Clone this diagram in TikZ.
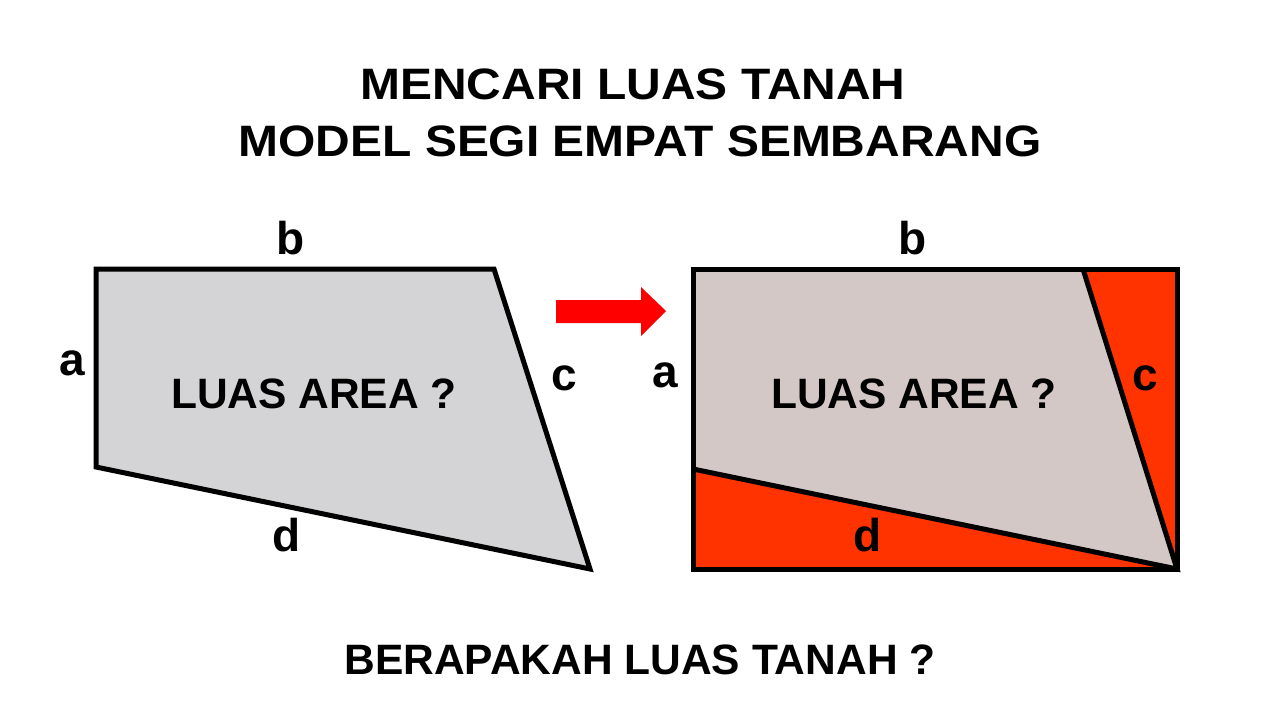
\documentclass[tikz,border=0pt]{standalone}
\usepackage{fontspec}
\setmainfont{Liberation Sans}
\definecolor{landgray}{HTML}{D4D3D5}
\definecolor{landpink}{HTML}{D4C8C6}
\definecolor{cutred}{HTML}{FF3300}
\newcommand{\widetitle}[1]{\scalebox{1.09}[1]{#1}}
\tikzstyle{title}=[font=\fontsize{44}{50}\selectfont\bfseries,inner sep=0pt]
\tikzstyle{label}=[font=\fontsize{42.5}{48}\selectfont\bfseries,inner sep=0pt]
\tikzstyle{side}=[font=\fontsize{46}{52}\selectfont\bfseries,inner sep=0pt]
\tikzstyle{edge}=[line width=5pt,line join=miter]

\begin{document}
\begin{tikzpicture}[x=1pt,y=-1pt]
\useasboundingbox (0,0) rectangle (1280,720);

\node[title] (t1) at (633, 84) {\widetitle{MENCARI LUAS TANAH}};
\node[title] (t2) at (640, 141) {\widetitle{MODEL SEGI EMPAT SEMBARANG}};

% left shape
\coordinate (l1) at (96, 269);
\coordinate (l2) at (494, 269);
\coordinate (l3) at (590, 569);
\coordinate (l4) at (96, 467);
\draw[edge, fill=landgray] (l1) -- (l2) -- (l3) -- (l4) -- cycle;

\node[side] (la) at (72, 363) {a};
\node[side] (lb) at (291, 238) {b};
\node[side] (lc) at (564, 378) {c};
\node[side] (ld) at (287, 535) {d};
\node[label] (lq) at (314, 394) {LUAS AREA ?};

% arrow
\fill[red] (556, 300) -- (641, 300) -- (641, 287) -- (666, 311) -- (641, 336) -- (641, 323) -- (556, 323) -- cycle;

% right shape
\coordinate (r1) at (693, 269);
\coordinate (r2) at (1083, 269);
\coordinate (r3) at (1177, 269);
\coordinate (r4) at (1177, 569);
\coordinate (r5) at (693, 569);
\coordinate (r6) at (693, 469);
\fill[landpink] (r1) -- (r2) -- (r4) -- (r6) -- cycle;
\fill[cutred] (r2) -- (r3) -- (r4) -- cycle;
\fill[cutred] (r6) -- (r4) -- (r5) -- cycle;
\draw[edge] (r2) -- (r4) -- (r6);
\draw[edge] (r1) rectangle (r4);

\node[side] (ra) at (665, 375) {a};
\node[side] (rb) at (913, 238) {b};
\node[side] (rc) at (1145, 378) {c};
\node[side] (rd) at (868, 535) {d};
\node[label] (rq) at (914, 394) {LUAS AREA ?};

\node[label] (q) at (640, 660) {BERAPAKAH LUAS TANAH ?};

\end{tikzpicture}
\end{document}
